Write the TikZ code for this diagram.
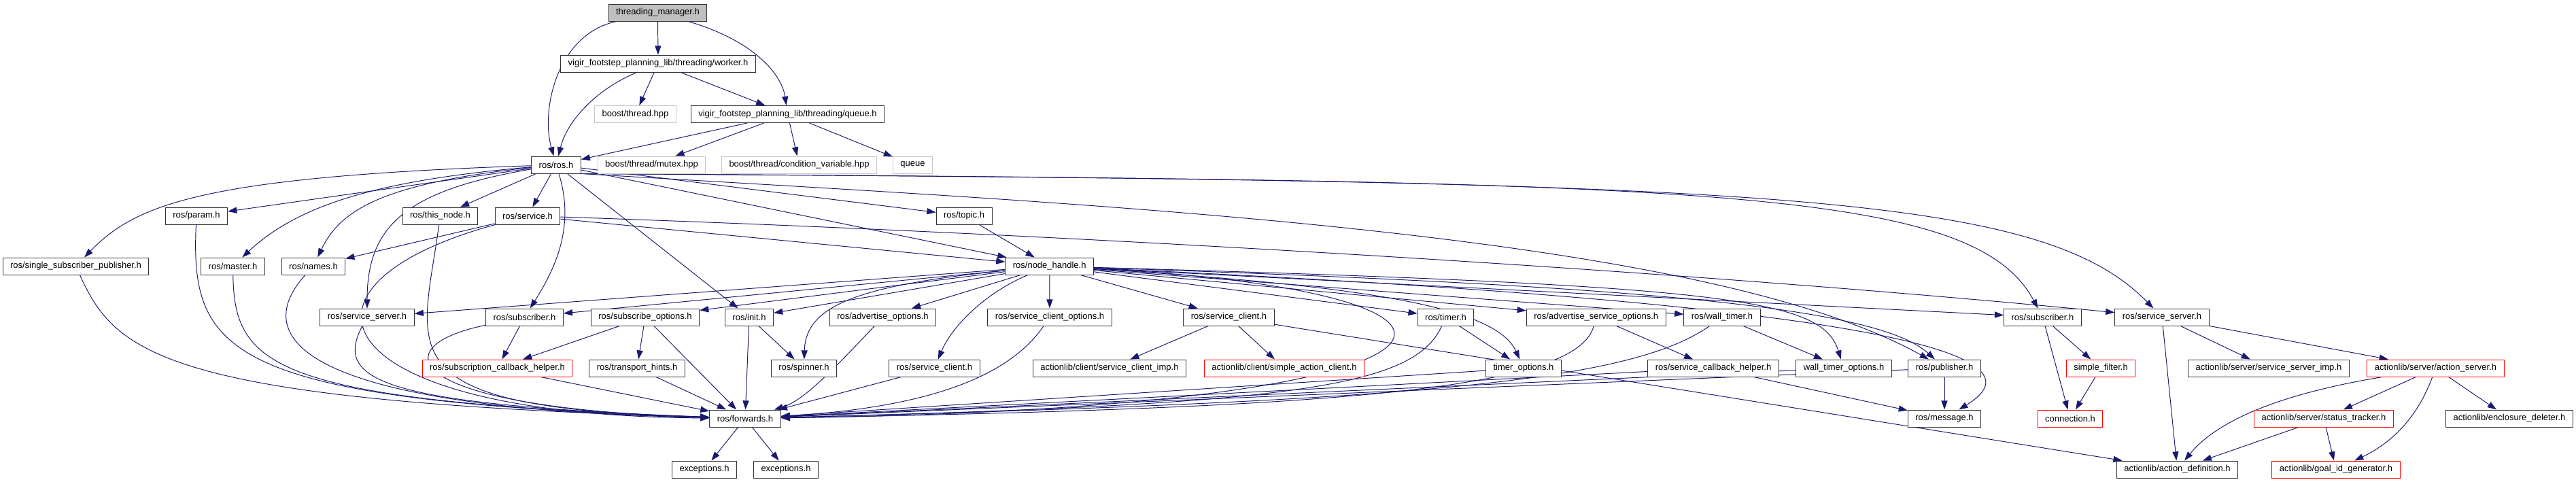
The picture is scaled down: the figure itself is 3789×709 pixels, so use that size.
\documentclass[tikz,border=0pt]{standalone}
\usepackage{fontspec}
\setmainfont{Liberation Sans}
\usetikzlibrary{arrows.meta,backgrounds}
\definecolor{midblue}{RGB}{25,25,112}
\begin{document}
\begin{tikzpicture}[x=0.02cm,y=-0.02cm,
  file/.style={draw=black!80,fill=white,line width=0.55pt,minimum height=0.5cm,
    inner xsep=0.22cm,inner ysep=0pt,font=\fontsize{7.4}{9}\selectfont},
  root/.style={file,fill=black!25},
  ext/.style={file,draw=black!22},
  bad/.style={file,draw=red},
  dep/.style={draw=midblue,line width=0.55pt,-{Triangle[length=7.5pt,width=5.2pt]}}]
\useasboundingbox (0,0) rectangle (3789,709);
% Top
\node[root] (tm) at (967.5,18.5) {threading\_manager.h};
\node[file] (worker) at (968,93.5) {vigir\_footstep\_planning\_lib/threading/worker.h};
\node[ext] (bthread) at (934.5,168) {boost/thread.hpp};
\node[file] (queueh) at (1158.5,168) {vigir\_footstep\_planning\_lib/threading/queue.h};
\node[file] (ros) at (818,242.5) {ros/ros.h};
\node[ext] (mutex) at (958.5,242.5) {boost/thread/mutex.hpp};
\node[ext] (condvar) at (1175.5,242.5) {boost/thread/condition\_variable.hpp};
\node[ext] (stdqueue) at (1342.5,242.5) {queue};
% Row 3
\node[file] (param) at (289,317.5) {ros/param.h};
\node[file] (thisnode) at (647.5,317.5) {ros/this\_node.h};
\node[file] (service) at (776,317.5) {ros/service.h};
\node[file] (topic) at (1418,317.5) {ros/topic.h};
% Row 4
\node[file] (single) at (111.5,391.5) {ros/single\_subscriber\_publisher.h};
\node[file] (master) at (342.5,391.5) {ros/master.h};
\node[file] (names) at (461,391.5) {ros/names.h};
\node[file] (nodehandle) at (1543.7,391.5) {ros/node\_handle.h};
% Row 5
\node[file] (srvserverL) at (540,466.5) {ros/service\_server.h};
\node[file] (subL) at (771.5,466.5) {ros/subscriber.h};
\node[file] (subopts) at (949,466.5) {ros/subscribe\_options.h};
\node[file] (init) at (1102,466.5) {ros/init.h};
\node[file] (advopts) at (1298.5,466.5) {ros/advertise\_options.h};
\node[file] (srvcliopts) at (1544,466.5) {ros/service\_client\_options.h};
\node[file] (srvcliU) at (1807.5,466.5) {ros/service\_client.h};
\node[file] (timer) at (2126.5,466.5) {ros/timer.h};
\node[file] (advsrvopts) at (2347.7,466.5) {ros/advertise\_service\_options.h};
\node[file] (walltimer) at (2533,466.5) {ros/wall\_timer.h};
\node[file] (subR) at (3004.5,466.5) {ros/subscriber.h};
\node[file] (srvserverR) at (3180,466.5) {ros/service\_server.h};
% Row 6
\node[bad] (subcb) at (731.5,541.5) {ros/subscription\_callback\_helper.h};
\node[file] (transhints) at (937,541.5) {ros/transport\_hints.h};
\node[file] (spinner) at (1182.5,541.5) {ros/spinner.h};
\node[file] (srvcliL) at (1374.5,541.5) {ros/service\_client.h};
\node[file] (srvcliimp) at (1632,541.5) {actionlib/client/service\_client\_imp.h};
\node[bad] (simpleac) at (1889,541.5) {actionlib/client/simple\_action\_client.h};
\node[file] (timeropts) at (2241,541.5) {timer\_options.h};
\node[file] (srvcb) at (2520,541.5) {ros/service\_callback\_helper.h};
\node[file] (walltimeropts) at (2712,541.5) {wall\_timer\_options.h};
\node[file] (publisher) at (2860,541.5) {ros/publisher.h};
\node[bad] (simplefilter) at (3090,541.5) {simple\_filter.h};
\node[file] (srvserverimp) at (3337,541.5) {actionlib/server/service\_server\_imp.h};
\node[bad] (actionserver) at (3582.5,541.5) {actionlib/server/action\_server.h};
% Row 7
\node[file] (forwards) at (1096,615.5) {ros/forwards.h};
\node[file] (message) at (2860,615.5) {ros/message.h};
\node[bad] (connection) at (3045,615.5) {connection.h};
\node[bad] (statustracker) at (3418,615.5) {actionlib/server/status\_tracker.h};
\node[file] (enclosure) at (3691,615.5) {actionlib/enclosure\_deleter.h};
% Row 8
\node[file] (exc1) at (1036,690.5) {exceptions.h};
\node[file] (exc2) at (1156,690.5) {exceptions.h};
\node[file] (actiondef) at (3202.5,690.5) {actionlib/action\_definition.h};
\node[bad] (goalid) at (3436,690.5) {actionlib/goal\_id\_generator.h};
\begin{pgfonlayer}{background}
% Threading headers
\draw[dep] (tm) -- (worker);
\draw[dep] (tm) .. controls (820,50) and (795,160) .. (ros);
\draw[dep] (tm) .. controls (1110,60) and (1150,110) .. (queueh);
\draw[dep] (worker) .. controls (880,130) and (835,175) .. (ros);
\draw[dep] (worker) -- (bthread);
\draw[dep] (worker) -- (queueh);
\draw[dep] (queueh) -- (ros);
\draw[dep] (queueh) -- (mutex);
\draw[dep] (queueh) -- (condvar);
\draw[dep] (queueh) -- (stdqueue);
% ros.h
\draw[dep] (ros) .. controls (300,260) and (200,300) .. (single);
\draw[dep] (ros) -- (param);
\draw[dep] (ros) .. controls (560,265) and (440,300) .. (master);
\draw[dep] (ros) .. controls (560,270) and (500,310) .. (names);
\draw[dep] (ros) .. controls (600,280) and (540,330) .. (srvserverL);
\draw[dep] (ros) -- (thisnode);
\draw[dep] (ros) -- (service);
\draw[dep] (ros) .. controls (845,330) and (820,390) .. (subL);
\draw[dep] (ros) -- (init);
\draw[dep] (ros) -- (nodehandle);
\draw[dep] (ros) -- (topic);
\draw[dep] (ros.south east) .. controls (1600,300) and (2500,340) .. (publisher);
\draw[dep] (ros.south east) .. controls (2500,266) and (2900,272) .. (subR);
\draw[dep] (ros.south east) .. controls (2600,266) and (3000,282) .. (srvserverR);
% service.h, topic.h
\draw[dep] (service) -- (names);
\draw[dep] (service) .. controls (400,420) and (470,610) .. (forwards);
\draw[dep] (service) -- (nodehandle);
\draw[dep] (service) .. controls (1600,345) and (2500,400) .. (srvserverR);
\draw[dep] (topic) -- (nodehandle);
% node_handle.h
\draw[dep] (nodehandle) -- (srvserverL);
\draw[dep] (nodehandle) -- (subL);
\draw[dep] (nodehandle) -- (subopts);
\draw[dep] (nodehandle) -- (init);
\draw[dep] (nodehandle) .. controls (1260,420) and (1185,450) .. (spinner);
\draw[dep] (nodehandle) -- (advopts);
\draw[dep] (nodehandle) .. controls (1450,430) and (1400,480) .. (srvcliL);
\draw[dep] (nodehandle) -- (srvcliopts);
\draw[dep] (nodehandle) -- (srvcliU);
\draw[dep] (nodehandle) .. controls (2280,430) and (2230,600) .. (forwards);
\draw[dep] (nodehandle) -- (timer);
\draw[dep] (nodehandle) .. controls (2000,420) and (2200,450) .. (timeropts);
\draw[dep] (nodehandle) -- (advsrvopts);
\draw[dep] (nodehandle) -- (walltimer);
\draw[dep] (nodehandle) .. controls (2550,420) and (2680,440) .. (walltimeropts);
\draw[dep] (nodehandle) .. controls (2400,420) and (2760,450) .. (publisher);
\draw[dep] (nodehandle) .. controls (2850,450) and (3000,530) .. (message);
\draw[dep] (nodehandle) -- (subR);
% into forwards.h from the left
\draw[dep] (single) .. controls (170,520) and (240,590) .. (forwards);
\draw[dep] (param) .. controls (280,520) and (330,590) .. (forwards);
\draw[dep] (master) .. controls (345,540) and (400,590) .. (forwards);
\draw[dep] (names) .. controls (380,480) and (390,600) .. (forwards);
\draw[dep] (srvserverL) .. controls (490,560) and (560,595) .. (forwards);
\draw[dep] (thisnode) .. controls (620,520) and (560,600) .. (forwards);
\draw[dep] (subL) .. controls (560,510) and (590,600) .. (forwards);
\draw[dep] (subL) -- (subcb);
\draw[dep] (subcb) -- (forwards);
\draw[dep] (subopts) -- (subcb);
\draw[dep] (subopts) -- (transhints);
\draw[dep] (subopts) -- (forwards);
\draw[dep] (transhints) -- (forwards);
\draw[dep] (init) -- (forwards);
\draw[dep] (init) -- (spinner);
% into forwards.h from the right
\draw[dep] (advopts) .. controls (1220,550) and (1180,590) .. (forwards);
\draw[dep] (srvcliL) -- (forwards);
\draw[dep] (srvcliopts) .. controls (1480,560) and (1350,600) .. (forwards);
\draw[dep] (timer) .. controls (2080,570) and (1900,595) .. (forwards);
\draw[dep] (timeropts) -- (forwards);
\draw[dep] (advsrvopts) .. controls (2320,570) and (2000,600) .. (forwards);
\draw[dep] (walltimer) .. controls (2400,560) and (2100,590) .. (forwards);
\draw[dep] (walltimeropts) -- (forwards);
\draw[dep] (publisher) -- (forwards);
\draw[dep] (srvcb) -- (forwards);
\draw[dep] (forwards) -- (exc1);
\draw[dep] (forwards) -- (exc2);
% timers, services
\draw[dep] (timer) -- (timeropts);
\draw[dep] (advsrvopts) -- (srvcb);
\draw[dep] (srvcb) -- (message);
\draw[dep] (walltimer) -- (walltimeropts);
\draw[dep] (publisher) -- (message);
\draw[dep] (srvcliU) -- (srvcliimp);
\draw[dep] (srvcliU) -- (simpleac);
\draw[dep] (srvcliU) -- (actiondef);
% subscriber, action server
\draw[dep] (subR) -- (connection);
\draw[dep] (subR) -- (simplefilter);
\draw[dep] (simplefilter) -- (connection);
\draw[dep] (srvserverR) -- (srvserverimp);
\draw[dep] (srvserverR) -- (actionserver);
\draw[dep] (srvserverR) -- (actiondef);
\draw[dep] (actionserver) .. controls (3350,580) and (3260,620) .. (actiondef);
\draw[dep] (actionserver) -- (statustracker);
\draw[dep] (actionserver) .. controls (3550,630) and (3500,660) .. (goalid);
\draw[dep] (actionserver) -- (enclosure);
\draw[dep] (statustracker) -- (actiondef);
\draw[dep] (statustracker) -- (goalid);
\end{pgfonlayer}
\end{tikzpicture}
\end{document}
